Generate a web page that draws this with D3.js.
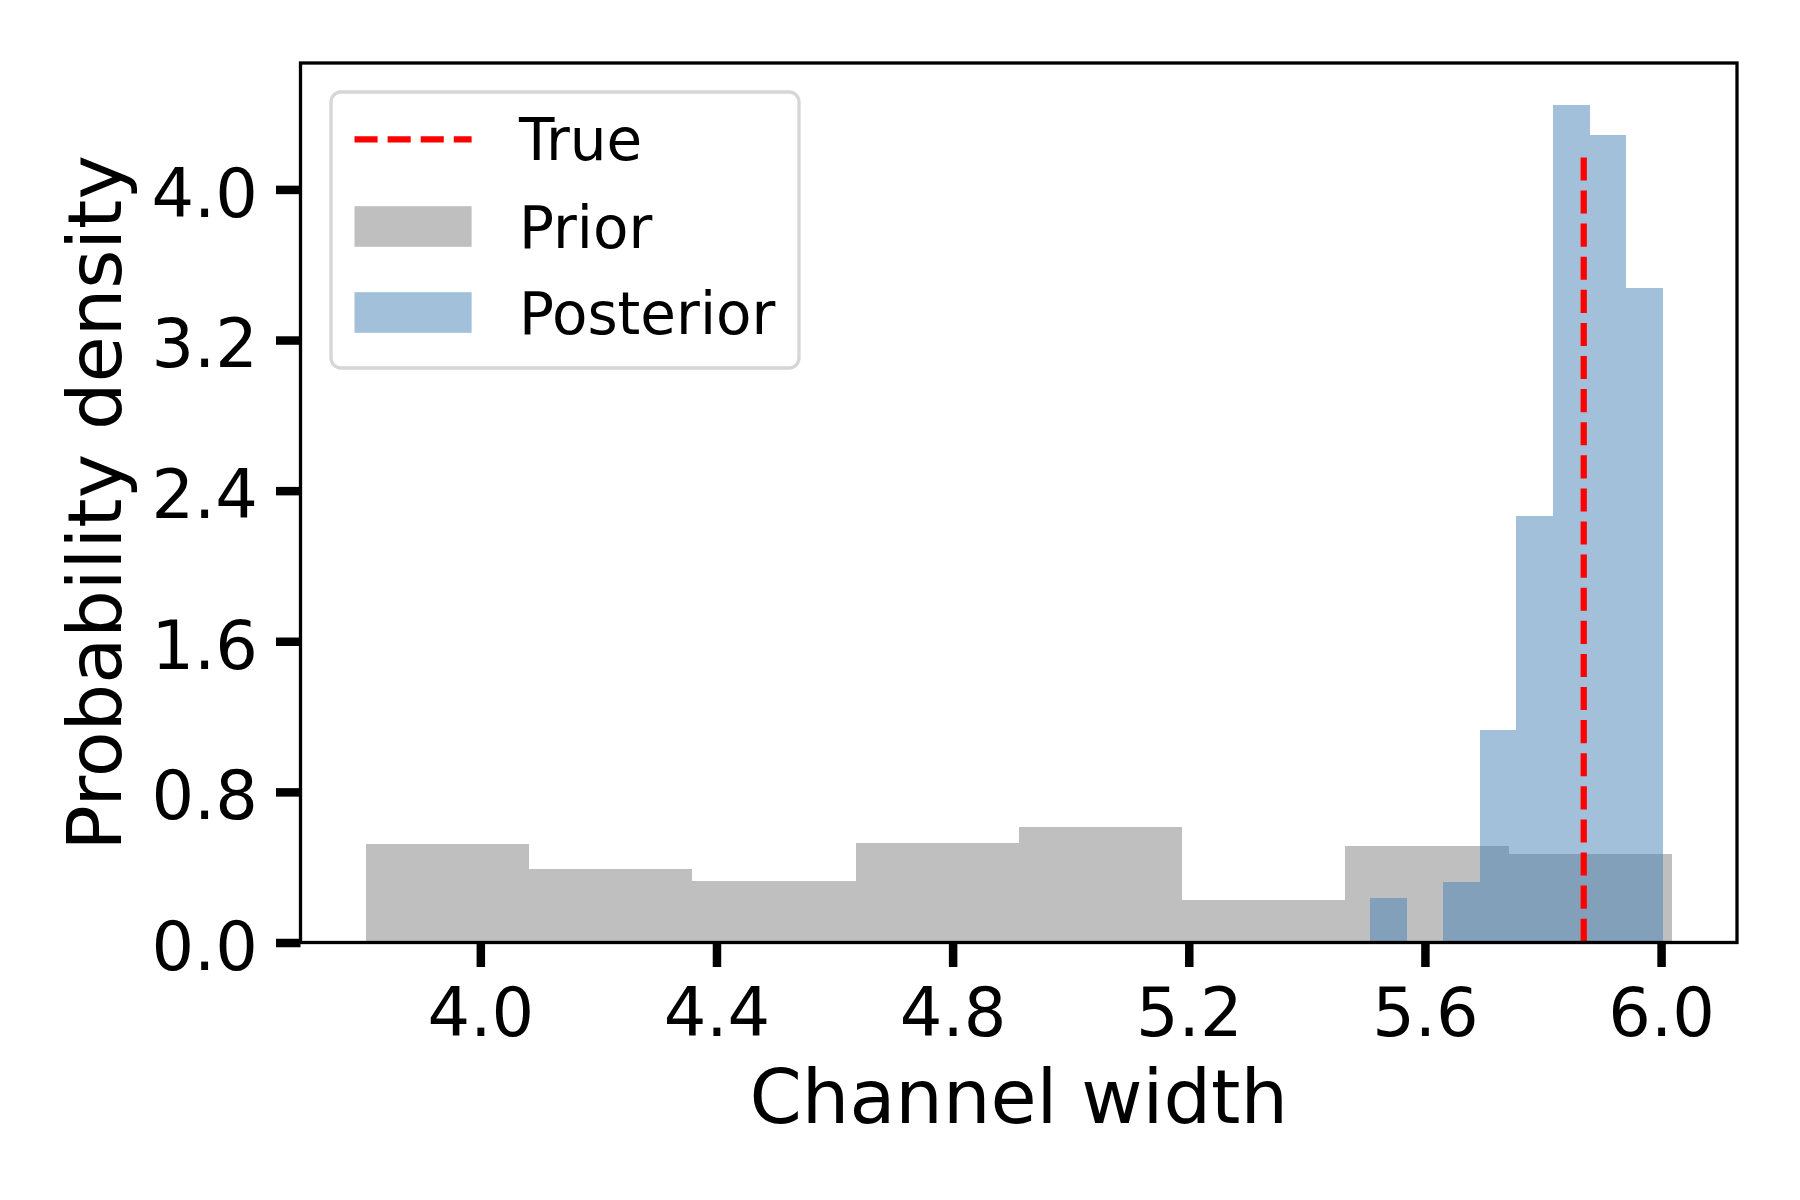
<!DOCTYPE html>
<html>
<head>
<meta charset="utf-8">
<script src="https://cdn.jsdelivr.net/npm/d3@7"></script>
<style>
  body { margin: 0; background: #fff; }
  text { font-family: "DejaVu Sans", sans-serif; fill: #000; }
</style>
</head>
<body>
<div id="chart"></div>
<script>
// histogram bin edges and densities
var priorEdges = [3.806, 4.083, 4.359, 4.636, 4.912, 5.189, 5.465, 5.742, 6.018];
var priorDensity = [0.523, 0.390, 0.327, 0.528, 0.613, 0.226, 0.512, 0.470];

var posteriorEdges = [5.507, 5.569, 5.631, 5.693, 5.755, 5.817, 5.879, 5.941, 6.003];
var posteriorDensity = [0.236, 0, 0.321, 1.129, 2.266, 4.449, 4.287, 3.476];

var trueValue = 5.869;
var trueLineTop = 4.17;

var xTicks = [4.0, 4.4, 4.8, 5.2, 5.6, 6.0];
var yTicks = [0.0, 0.8, 1.6, 2.4, 3.2, 4.0];

var legendLabels = ['True', 'Prior', 'Posterior'];

function main(domSelector) {
    var width = 1800;
    var height = 1200;
    var plot = {left: 300.5, right: 1737, top: 63, bottom: 942.5};

    var priorColor = 'rgba(128,128,128,0.5)';
    var posteriorColor = 'rgba(70,130,180,0.5)';

    var svg = d3.select(domSelector).append('svg')
        .attr('width', width)
        .attr('height', height);

    svg.append('rect').attr('width', width).attr('height', height).attr('fill', '#fff');

    // matplotlib style 5% margins on x, 5% headroom on y
    var xMin = d3.min([priorEdges[0], posteriorEdges[0]]);
    var xMax = d3.max([priorEdges[priorEdges.length - 1], posteriorEdges[posteriorEdges.length - 1]]);
    var pad = (xMax - xMin) * 0.05;
    var yMax = d3.max(priorDensity.concat(posteriorDensity)) * 1.05;

    var xScale = d3.scaleLinear().domain([xMin - pad, xMax + pad]).range([plot.left, plot.right]);
    var yScale = d3.scaleLinear().domain([0, yMax]).range([plot.bottom, plot.top]);

    function bins(edges, dens) {
        return dens.map(function (d, i) { return {x0: edges[i], x1: edges[i + 1], y: d}; })
            .filter(function (d) { return d.y > 0; });
    }

    function drawHist(edges, dens, color) {
        svg.append('g')
            .attr('shape-rendering', 'crispEdges')
            .selectAll('rect')
            .data(bins(edges, dens))
            .enter().append('rect')
            .attr('x', function (d) { return xScale(d.x0); })
            .attr('width', function (d) { return xScale(d.x1) - xScale(d.x0); })
            .attr('y', function (d) { return yScale(d.y); })
            .attr('height', function (d) { return yScale(0) - yScale(d.y); })
            .attr('fill', color);
    }
    drawHist(priorEdges, priorDensity, priorColor);
    drawHist(posteriorEdges, posteriorDensity, posteriorColor);

    svg.append('line')
        .attr('x1', xScale(trueValue)).attr('x2', xScale(trueValue))
        .attr('y1', yScale(trueLineTop)).attr('y2', yScale(0))
        .attr('stroke', '#ff0000')
        .attr('stroke-width', 6.25)
        .attr('stroke-dasharray', '23.1 10');

    // axes
    var xAxis = svg.append('g')
        .attr('transform', 'translate(0,' + plot.bottom + ')')
        .call(d3.axisBottom(xScale).tickValues(xTicks).tickFormat(d3.format('.1f'))
            .tickSize(24.5).tickPadding(21));
    var yAxis = svg.append('g')
        .attr('transform', 'translate(' + plot.left + ',0)')
        .call(d3.axisLeft(yScale).tickValues(yTicks).tickFormat(d3.format('.1f'))
            .tickSize(24.5).tickPadding(18));

    [xAxis, yAxis].forEach(function (g) {
        g.select('.domain').remove();
        g.selectAll('.tick line').attr('stroke', '#000').attr('stroke-width', 8.5);
        g.selectAll('.tick text')
            .style('font-family', '"DejaVu Sans", sans-serif')
            .style('font-size', '67px')
            .attr('fill', '#000');
    });
    yAxis.selectAll('.tick text').attr('dy', '0.4em');

    svg.append('rect')
        .attr('x', plot.left).attr('y', plot.top)
        .attr('width', plot.right - plot.left)
        .attr('height', plot.bottom - plot.top)
        .attr('fill', 'none')
        .attr('stroke', '#000')
        .attr('stroke-width', 3.3);

    svg.append('text')
        .attr('x', (plot.left + plot.right) / 2)
        .attr('y', 1123)
        .attr('text-anchor', 'middle')
        .style('font-size', '75px')
        .text('Channel width');

    svg.append('text')
        .attr('transform', 'translate(121,' + (plot.top + plot.bottom) / 2 + ') rotate(-90)')
        .attr('text-anchor', 'middle')
        .style('font-size', '75px')
        .text('Probability density');

    // legend
    var legend = svg.append('g');
    legend.append('rect')
        .attr('x', 331).attr('y', 92)
        .attr('width', 468).attr('height', 276)
        .attr('rx', 10).attr('ry', 10)
        .attr('fill', 'rgba(255,255,255,0.8)')
        .attr('stroke', '#d6d6d6')
        .attr('stroke-width', 3.3);

    var rowY = [139.3, 226.5, 312.5];
    legend.append('line')
        .attr('x1', 354.5).attr('x2', 471.6)
        .attr('y1', rowY[0]).attr('y2', rowY[0])
        .attr('stroke', '#ff0000')
        .attr('stroke-width', 6.25)
        .attr('stroke-dasharray', '23.1 10');
    [priorColor, posteriorColor].forEach(function (c, i) {
        legend.append('rect')
            .attr('x', 354.5).attr('y', rowY[i + 1] - 20.3)
            .attr('width', 117.1).attr('height', 40.6)
            .attr('fill', c);
    });
    legend.selectAll('text.label')
        .data(legendLabels)
        .enter().append('text')
        .attr('class', 'label')
        .attr('x', 519)
        .attr('y', function (d, i) { return rowY[i] + 21; })
        .style('font-size', '58px')
        .text(function (d) { return d; });
}

main('#chart');
</script>
</body>
</html>
